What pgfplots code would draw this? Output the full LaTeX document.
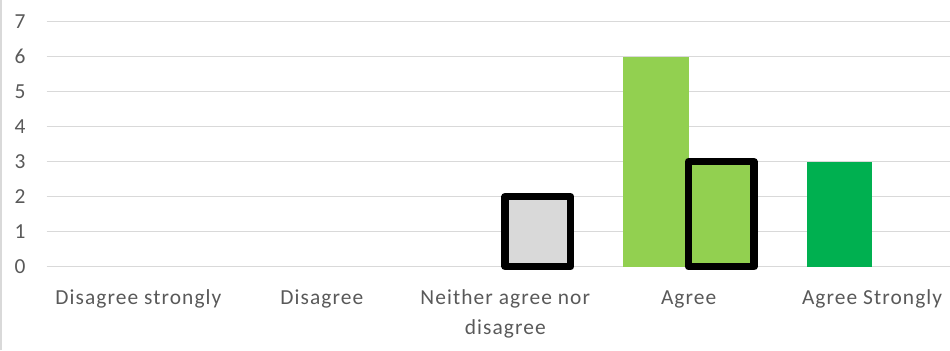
\documentclass[border=0pt]{standalone}
\usepackage{pgfplots}
\pgfplotsset{compat=1.18}
\usepackage{fontspec}
\setmainfont{Carlito}[LetterSpace=5]
\definecolor{txtgray}{HTML}{595959}
\definecolor{gridgray}{HTML}{D9D9D9}
\definecolor{lightgreen}{HTML}{92D050}
\definecolor{darkgreen}{HTML}{00B050}
\definecolor{lightgray}{HTML}{D9D9D9}
\begin{document}
\begin{tikzpicture}[x=1bp,y=1bp]
\begin{axis}[
  at={(0,0)}, anchor=south west,
  scale only axis,
  width=903.3bp, height=245bp,
  xmin=-0.5, xmax=4.425,
  ymin=0, ymax=7,
  axis line style={draw=none},
  ytick={0,...,7},
  xtick={0,...,4},
  xticklabels={\strut Disagree strongly,\strut Disagree,{\strut Neither agree nor\\disagree},\strut Agree,\strut Agree Strongly},
  ymajorgrids,
  grid style={gridgray, line width=1.2bp},
  major tick length=0pt,
  /pgf/number format/assume math mode=true,
  tick label style={font=\fontsize{21.5}{30}\selectfont, text=txtgray, inner sep=0pt},
  xticklabel style={align=center, anchor=north, yshift=-16.6bp},
  yticklabel style={anchor=east, xshift=-21bp},
  ybar, bar width=65.3bp,
  clip=false,
]
% filled bars without outline
\addplot[fill=lightgreen, draw=none, bar shift=-32.65bp] coordinates {(3,6)};
\addplot[fill=darkgreen, draw=none, bar shift=-32.65bp] coordinates {(4,3)};
% outlined bars
\addplot[fill=lightgray, draw=black, line width=7.5bp, line join=round, bar shift=32.65bp] coordinates {(2,2)};
\addplot[fill=lightgreen, draw=black, line width=7.5bp, line join=round, bar shift=32.65bp] coordinates {(3,3)};
\end{axis}
\draw[gridgray, line width=1.2bp] (-45.7,-83.3) -- (-45.7,266.7);
\pgfresetboundingbox
\path[use as bounding box] (-46.7,-83.3) rectangle (903.3,266.7);
\end{tikzpicture}
\end{document}
